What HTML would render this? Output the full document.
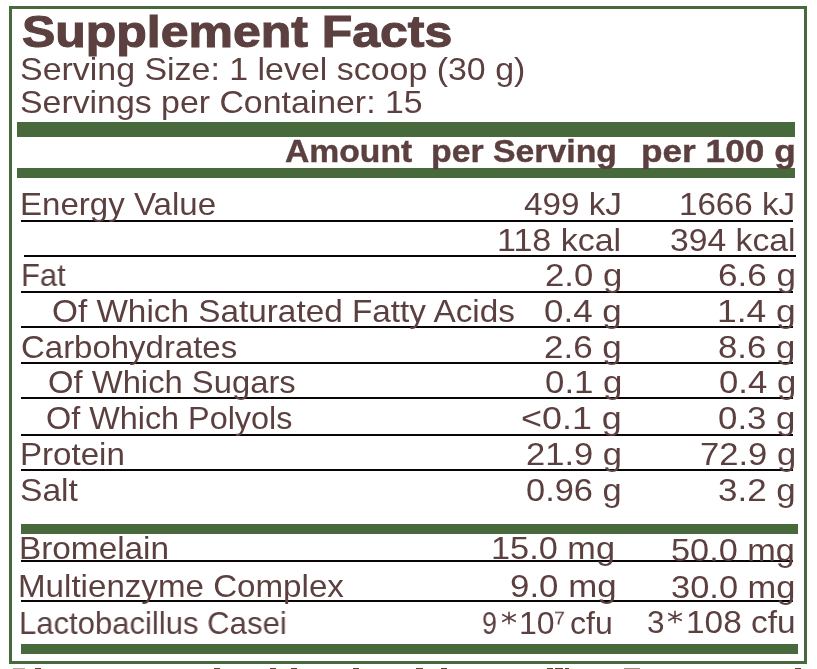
<!DOCTYPE html>
<html><head><meta charset="utf-8"><style>
html,body{margin:0;padding:0;background:#fff;width:817px;height:669px;overflow:hidden;position:relative}
.box{position:absolute;left:9px;top:6px;width:792px;height:652px;border:3px solid #48693c}
.bar{position:absolute;background:#48693c}
.ln{position:absolute;height:2px;background:#0a0607}
.t{position:absolute;font-family:"Liberation Sans",sans-serif;color:#5c3f3f;line-height:normal;white-space:nowrap;transform-origin:0 0;will-change:transform}
.b{font-weight:700}
.mk{position:absolute;top:668px;height:1px;background:#5c3f3f}
</style></head><body>
<div class="box"></div>
<div class="bar" style="top:122px;height:15px;left:17px;width:778px"></div>
<div class="bar" style="top:168px;height:10px;left:17px;width:778px"></div>
<div class="bar" style="top:524px;height:10px;left:21px;width:777px"></div>
<div class="bar" style="top:644px;height:10px;left:21px;width:777px"></div>
<div class="ln" style="top:220px;left:21px;width:772px"></div>
<div class="ln" style="top:255px;left:24px;width:772px"></div>
<div class="ln" style="top:291px;left:21px;width:772px"></div>
<div class="ln" style="top:326px;left:21px;width:772px"></div>
<div class="ln" style="top:362px;left:21px;width:772px"></div>
<div class="ln" style="top:397px;left:21px;width:772px"></div>
<div class="ln" style="top:434px;left:21px;width:772px"></div>
<div class="ln" style="top:469px;left:21px;width:772px"></div>
<div class="ln" style="top:560px;left:21px;width:772px"></div>
<div class="ln" style="top:600px;left:21px;width:772px"></div>
<div class="t b" style="left:21.96px;top:6px;font-size:45px;transform:scaleX(1.1100);-webkit-text-stroke:1.1px #5c3f3f">Supplement Facts</div>
<div class="t" style="left:19.82px;top:51px;font-size:31.5px;transform:scaleX(1.0769)">Serving Size: 1 level scoop (30 g)</div>
<div class="t" style="left:19.82px;top:84px;font-size:31.5px;transform:scaleX(1.0744)">Servings per Container: 15</div>
<div class="t b" style="left:285.16px;top:134px;font-size:31px;transform:scaleX(1.0869);-webkit-text-stroke:0.4px #5c3f3f">Amount</div>
<div class="t b" style="left:430.92px;top:134px;font-size:31px;transform:scaleX(1.0901);-webkit-text-stroke:0.4px #5c3f3f">per Serving</div>
<div class="t b" style="left:640.83px;top:134px;font-size:31px;transform:scaleX(1.1364);-webkit-text-stroke:0.4px #5c3f3f">per 100 g</div>
<div class="t" style="left:20.39px;top:186px;font-size:31.5px;transform:scaleX(1.0495)">Energy Value</div>
<div class="t" style="left:524.24px;top:186px;font-size:31.5px;transform:scaleX(1.0549)">499 kJ</div>
<div class="t" style="left:679.45px;top:186px;font-size:31.5px;transform:scaleX(1.0524)">1666 kJ</div>
<div class="t" style="left:497.29px;top:222px;font-size:31.5px;transform:scaleX(1.0793)">118 kcal</div>
<div class="t" style="left:670.41px;top:222px;font-size:31.5px;transform:scaleX(1.0691)">394 kcal</div>
<div class="t" style="left:20.56px;top:257px;font-size:31.5px;transform:scaleX(0.9818)">Fat</div>
<div class="t" style="left:544.85px;top:257px;font-size:31.5px;transform:scaleX(1.1017)">2.0 g</div>
<div class="t" style="left:717.90px;top:257px;font-size:31.5px;transform:scaleX(1.1114)">6.6 g</div>
<div class="t" style="left:51.61px;top:293px;font-size:31.5px;transform:scaleX(1.0576)">Of Which Saturated Fatty Acids</div>
<div class="t" style="left:544.36px;top:293px;font-size:31.5px;transform:scaleX(1.1091)">0.4 g</div>
<div class="t" style="left:716.98px;top:293px;font-size:31.5px;transform:scaleX(1.1250)">1.4 g</div>
<div class="t" style="left:20.51px;top:329px;font-size:31.5px;transform:scaleX(1.0463)">Carbohydrates</div>
<div class="t" style="left:544.24px;top:329px;font-size:31.5px;transform:scaleX(1.1108)">2.6 g</div>
<div class="t" style="left:718.41px;top:329px;font-size:31.5px;transform:scaleX(1.1039)">8.6 g</div>
<div class="t" style="left:48.34px;top:364px;font-size:31.5px;transform:scaleX(1.0405)">Of Which Sugars</div>
<div class="t" style="left:544.56px;top:364px;font-size:31.5px;transform:scaleX(1.1061)">0.1 g</div>
<div class="t" style="left:718.57px;top:364px;font-size:31.5px;transform:scaleX(1.1016)">0.4 g</div>
<div class="t" style="left:46.31px;top:400px;font-size:31.5px;transform:scaleX(1.0275)">Of Which Polyols</div>
<div class="t" style="left:521.23px;top:400px;font-size:31.5px;transform:scaleX(1.1392)">&lt;0.1 g</div>
<div class="t" style="left:718.26px;top:400px;font-size:31.5px;transform:scaleX(1.1061)">0.3 g</div>
<div class="t" style="left:20.39px;top:436px;font-size:31.5px;transform:scaleX(1.0503)">Protein</div>
<div class="t" style="left:526.06px;top:436px;font-size:31.5px;transform:scaleX(1.0959)">21.9 g</div>
<div class="t" style="left:699.52px;top:436px;font-size:31.5px;transform:scaleX(1.0987)">72.9 g</div>
<div class="t" style="left:19.84px;top:472px;font-size:31.5px;transform:scaleX(1.0660)">Salt</div>
<div class="t" style="left:526.38px;top:472px;font-size:31.5px;transform:scaleX(1.0923)">0.96 g</div>
<div class="t" style="left:718.05px;top:472px;font-size:31.5px;transform:scaleX(1.1092)">3.2 g</div>
<div class="t" style="left:18.57px;top:530px;font-size:31.5px;transform:scaleX(1.0582)">Bromelain</div>
<div class="t" style="left:491.16px;top:530px;font-size:31.5px;transform:scaleX(1.0892)">15.0 mg</div>
<div class="t" style="left:671.21px;top:532px;font-size:31.5px;transform:scaleX(1.0888)">50.0 mg</div>
<div class="t" style="left:18.18px;top:568px;font-size:31.5px;transform:scaleX(1.0518)">Multienzyme Complex</div>
<div class="t" style="left:510.46px;top:568px;font-size:31.5px;transform:scaleX(1.1066)">9.0 mg</div>
<div class="t" style="left:670.67px;top:569px;font-size:31.5px;transform:scaleX(1.0935)">30.0 mg</div>
<div class="t" style="left:18.55px;top:605px;font-size:31.5px;transform:scaleX(0.9862)">Lactobacillus Casei</div>
<div class="t" style="left:481.76px;top:605px;font-size:31.5px;transform:scaleX(0.8525)">9</div>
<div class="t" style="left:518.74px;top:605px;font-size:31.5px;transform:scaleX(1.0163)">10</div>
<div class="t" style="left:570.44px;top:605px;font-size:31.5px;transform:scaleX(1.0154)">cfu</div>
<div class="t" style="left:647.44px;top:604px;font-size:31.5px;transform:scaleX(0.9805)">3</div>
<div class="t" style="left:685.53px;top:604px;font-size:31.5px;transform:scaleX(1.0608)">108 cfu</div>
<div class="t" style="left:554.08px;top:607.84px;font-size:20px;transform:scale(0.9795,0.9143)">7</div>
<div class="mk" style="left:13px;width:12px;opacity:0.45"></div>
<div class="mk" style="left:35px;width:6px;opacity:1"></div>
<div class="mk" style="left:214px;width:6px;opacity:1"></div>
<div class="mk" style="left:270px;width:6px;opacity:1"></div>
<div class="mk" style="left:291px;width:6px;opacity:1"></div>
<div class="mk" style="left:353px;width:6px;opacity:1"></div>
<div class="mk" style="left:416px;width:7px;opacity:1"></div>
<div class="mk" style="left:441px;width:6px;opacity:1"></div>
<div class="mk" style="left:547px;width:6px;opacity:1"></div>
<div class="mk" style="left:555px;width:8px;opacity:1"></div>
<div class="mk" style="left:565px;width:4px;opacity:1"></div>
<div class="mk" style="left:624px;width:16px;opacity:0.6"></div>
<div class="mk" style="left:795px;width:6px;opacity:1"></div>
<svg style="position:absolute;left:498.85px;top:608.15px" width="20" height="20" viewBox="-10 -10 20 20"><path d="M0 -5.8V5.8M-6.2 -3.3L6.2 3.3M-6.2 3.3L6.2 -3.3" stroke="#5c3f3f" stroke-width="1.6" stroke-linecap="round" fill="none"/></svg>
<svg style="position:absolute;left:664.75px;top:607.30px" width="20" height="20" viewBox="-10 -10 20 20"><path d="M0 -5.8V5.8M-6.2 -3.3L6.2 3.3M-6.2 3.3L6.2 -3.3" stroke="#5c3f3f" stroke-width="1.6" stroke-linecap="round" fill="none"/></svg>
</body></html>
